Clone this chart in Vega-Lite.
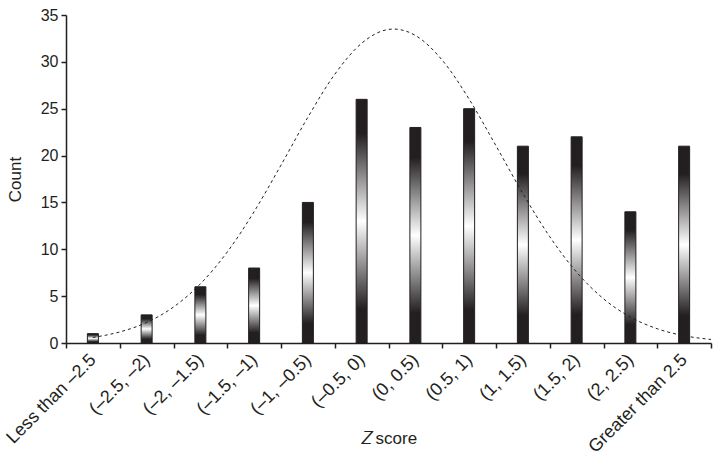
{
  "$schema": "https://vega.github.io/schema/vega-lite/v6.json",
  "width": 645,
  "height": 328,
  "autosize": "none",
  "padding": {"left": 66, "top": 15, "right": 11, "bottom": 117},
  "config": {
    "view": {"stroke": null},
    "font": "Liberation Sans",
    "axis": {
      "domainColor": "#231f20",
      "domainWidth": 1.5,
      "tickColor": "#231f20",
      "tickWidth": 1.5,
      "tickSize": 5,
      "labelColor": "#231f20",
      "titleColor": "#231f20",
      "labelFontSize": 16,
      "titleFontSize": 17,
      "titleFontWeight": "normal",
      "grid": false
    }
  },
  "layer": [
    {
      "data": {
        "values": [
          {"bin": "Less than –2.5", "count": 1},
          {"bin": "(–2.5, –2)", "count": 3},
          {"bin": "(–2, –1.5)", "count": 6},
          {"bin": "(–1.5, –1)", "count": 8},
          {"bin": "(–1, –0.5)", "count": 15},
          {"bin": "(–0.5, 0)", "count": 26},
          {"bin": "(0, 0.5)", "count": 23},
          {"bin": "(0.5, 1)", "count": 25},
          {"bin": "(1, 1.5)", "count": 21},
          {"bin": "(1.5, 2)", "count": 22},
          {"bin": "(2, 2.5)", "count": 14},
          {"bin": "Greater than 2.5", "count": 21}
        ]
      },
      "mark": {
        "type": "bar",
        "width": 11,
        "stroke": "#231f20",
        "strokeWidth": 1,
        "fill": {
          "gradient": "linear",
          "x1": 0, "y1": 0, "x2": 0, "y2": 1,
          "stops": [
            {"offset": 0, "color": "#231f20"},
            {"offset": 0.14, "color": "#231f20"},
            {"offset": 0.5, "color": "#ffffff"},
            {"offset": 0.86, "color": "#231f20"},
            {"offset": 1, "color": "#231f20"}
          ]
        }
      },
      "encoding": {
        "x": {
          "field": "bin",
          "type": "nominal",
          "sort": null,
          "scale": {"paddingInner": 0, "paddingOuter": 0},
          "axis": {
            "title": "𝑍 score",
            "labelAngle": -45,
            "labelAlign": "right",
            "labelBaseline": "middle",
            "labelFontSize": 18,
            "labelPadding": 9,
            "tickBand": "extent",
            "titleY": 87,
            "titleBaseline": "top"
          }
        },
        "y": {
          "field": "count",
          "type": "quantitative",
          "scale": {"domain": [0, 35]},
          "axis": {
            "title": "Count",
            "values": [0, 5, 10, 15, 20, 25, 30, 35],
            "labelPadding": 3,
            "titlePadding": 16
          }
        }
      }
    },
    {
      "data": {
        "values": [
          {"u": 0.5, "v": 0.59},
          {"u": 1.0, "v": 1.18},
          {"u": 1.5, "v": 2.19},
          {"u": 2.0, "v": 3.84},
          {"u": 2.5, "v": 6.31},
          {"u": 3.0, "v": 9.71},
          {"u": 3.5, "v": 14.02},
          {"u": 4.0, "v": 18.98},
          {"u": 4.5, "v": 24.09},
          {"u": 5.0, "v": 28.67},
          {"u": 5.5, "v": 31.98},
          {"u": 6.0, "v": 33.46},
          {"u": 6.1, "v": 33.5},
          {"u": 6.5, "v": 32.82},
          {"u": 7.0, "v": 30.18},
          {"u": 7.5, "v": 26.02},
          {"u": 8.0, "v": 21.04},
          {"u": 8.5, "v": 15.95},
          {"u": 9.0, "v": 11.34},
          {"u": 9.5, "v": 7.56},
          {"u": 10.0, "v": 4.72},
          {"u": 10.5, "v": 2.77},
          {"u": 11.0, "v": 1.52},
          {"u": 11.5, "v": 0.78},
          {"u": 12.0, "v": 0.38}
        ]
      },
      "mark": {
        "type": "line",
        "interpolate": "monotone",
        "stroke": "#231f20",
        "strokeWidth": 1,
        "strokeDash": [3, 3]
      },
      "encoding": {
        "x": {
          "field": "u",
          "type": "quantitative",
          "scale": {"domain": [0, 12], "nice": false, "zero": false},
          "axis": null
        },
        "y": {"field": "v", "type": "quantitative"}
      }
    }
  ],
  "resolve": {"scale": {"x": "independent"}}
}
